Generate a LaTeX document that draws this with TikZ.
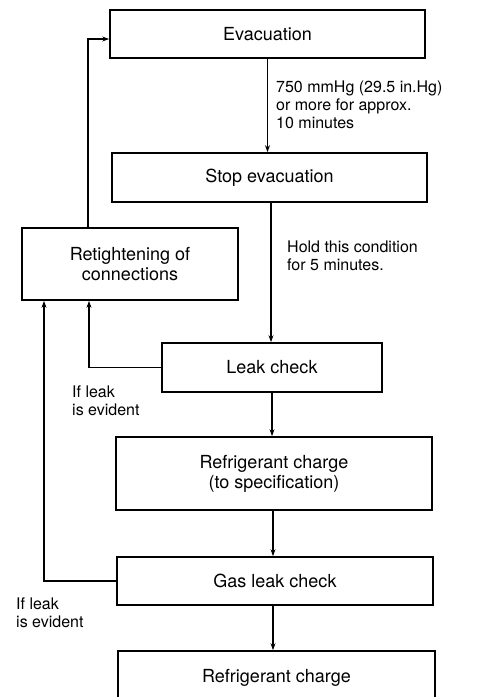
\documentclass[tikz,border=0pt]{standalone}
\usepackage{fontspec}
\setmainfont{TeX Gyre Heros}
\usetikzlibrary{arrows.meta}

\begin{document}
\begin{tikzpicture}[x=1pt,y=-1pt,
    box/.style={draw,line width=1.7pt,minimum height=48pt,inner sep=0pt,align=center,font=\fontsize{18}{20}\selectfont},
    flow/.style={line width=1.6pt,-{Stealth[length=7pt,width=5pt]}},
    note/.style={anchor=north west,inner sep=0pt,align=left,font=\fontsize{16}{18}\selectfont}]
      \useasboundingbox (0,0) rectangle (477,697);
      \clip (0,0) rectangle (477,697);

      % boxes
      \node [box,minimum width=315pt] (evac) at (267.5,34) {Evacuation};
      \node [box,minimum width=315pt,minimum height=49pt] (stop) at (269.5,177.5) {Stop evacuation};
      \node [box,minimum width=216pt,minimum height=72pt] (retight) at (130,264) {Retightening of\\connections};
      \node [box,minimum width=220pt,minimum height=49pt] (leak) at (272,367.5) {Leak check};
      \node [box,minimum width=316pt,minimum height=73pt] (spec) at (274,473.5) {Refrigerant charge\\(to specification)};
      \node [box,minimum width=316pt] (gas) at (275,581) {Gas leak check};
      \node [box,minimum width=317pt,minimum height=60pt] (final) at (276.5,681) {\raisebox{10pt}{Refrigerant charge}};

      % main line
      \draw [flow] (evac.south) -- (evac.south |- stop.north);
      \draw [flow] ([xshift=1.5pt]stop.south) -- ([xshift=1.5pt]stop.south |- leak.north);
      \draw [flow] (leak.south) -- (leak.south |- spec.north);
      \draw [flow] ([xshift=-1pt]spec.south) -- ([xshift=-1pt]spec.south |- gas.north);
      \draw [flow] ([xshift=-2pt]gas.south) -- ([xshift=-2pt]gas.south |- final.north);

      % back lines
      \draw [flow] ([xshift=-42pt]retight.north) |- ([yshift=-5pt]evac.west);
      \draw [flow] (leak.west) -| ([xshift=-41pt]retight.south);
      \draw [flow] (gas.west) -| ([xshift=-86pt]retight.south);

      % notes
      \node [note] (vac) at (276,81) {750 mmHg (29.5 in.Hg)\\or more for approx.\\10 minutes};
      \node [note] (hold) at (287,241) {Hold this condition\\for 5 minutes.};
      \node [note] (if1) at (72,386) {If leak\\is evident};
      \node [note] (if2) at (16,598) {If leak\\is evident};
\end{tikzpicture}
\end{document}
